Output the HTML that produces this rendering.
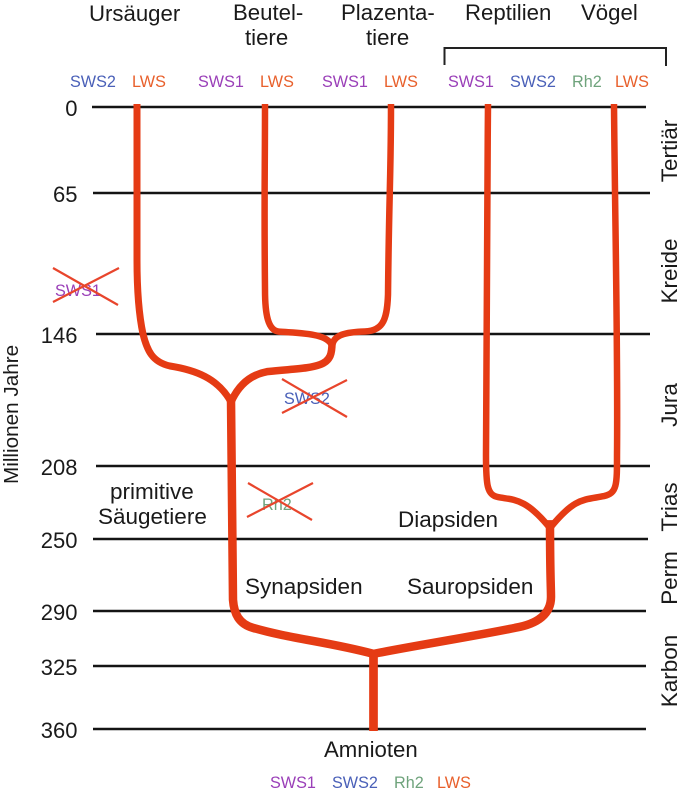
<!DOCTYPE html>
<html lang="de">
<head>
<meta charset="utf-8">
<title>Amnioten Opsin-Stammbaum</title>
<style>
html,body{margin:0;padding:0;background:#fff;width:685px;height:793px;overflow:hidden}
svg{display:block}
text{font-family:"Liberation Sans",sans-serif;fill:#1a1a1a}
.h{font-size:22.2px}
.b{font-size:22.5px}
.p{font-size:22.5px}
.g{font-size:16.2px}
.sws1{fill:#9a3fb8}
.sws2{fill:#4a60b8}
.rh2{fill:#6fa37c}
.lws{fill:#e8602c}
.cross{stroke:#e8452c;stroke-width:2.2;fill:none}
.branch{stroke:#e53b14;fill:none;stroke-linecap:butt;stroke-linejoin:round}
</style>
</head>
<body>
<svg id="chart" xmlns="http://www.w3.org/2000/svg" width="685" height="793" viewBox="0 0 685 793">
  <g id="grid"></g>
  <g id="ticks"></g>
  <g id="tree"></g>

  <text class="h" x="89" y="21">Ursäuger</text>
  <text class="h" x="233" y="20">Beutel-</text>
  <text class="h" x="245" y="45">tiere</text>
  <text class="h" x="341" y="20">Plazenta-</text>
  <text class="h" x="366" y="45">tiere</text>
  <text class="h" x="465" y="20">Reptilien</text>
  <text class="h" x="581" y="20">Vögel</text>

  <path d="M444.500 65V48H666V66" fill="none" stroke="#222" stroke-width="2"/>

  <text class="g sws2" x="70" y="87">SWS2</text>
  <text class="g lws" x="132" y="87">LWS</text>
  <text class="g sws1" x="198" y="87">SWS1</text>
  <text class="g lws" x="260" y="87">LWS</text>
  <text class="g sws1" x="322" y="87">SWS1</text>
  <text class="g lws" x="384" y="87">LWS</text>
  <text class="g sws1" x="448" y="87">SWS1</text>
  <text class="g sws2" x="510" y="87">SWS2</text>
  <text class="g rh2" x="572" y="87">Rh2</text>
  <text class="g lws" x="615" y="87">LWS</text>

  <text x="0" y="0" transform="translate(18,484) rotate(-90)" style="font-size:20.7px">Millionen Jahre</text>

  <g>
    <text class="p" text-anchor="middle" transform="translate(677,151) rotate(-90)">Tertiär</text>
    <text class="p" text-anchor="middle" transform="translate(677,271) rotate(-90)">Kreide</text>
    <text class="p" text-anchor="middle" transform="translate(677,405) rotate(-90)">Jura</text>
    <text class="p" text-anchor="middle" transform="translate(677,507) rotate(-90)">Trias</text>
    <text class="p" text-anchor="middle" transform="translate(677,578) rotate(-90)">Perm</text>
    <text class="p" text-anchor="middle" transform="translate(677,671) rotate(-90)">Karbon</text>
  </g>

  <text class="g sws1" x="55" y="296">SWS1</text>
  <path class="cross" d="M53 268L118 305M53 302L119 268"/>
  <text class="g sws2" x="284" y="404">SWS2</text>
  <path class="cross" d="M282 379L347 417M282 413L347 380"/>
  <text class="g rh2" x="262" y="510">Rh2</text>
  <path class="cross" d="M248 483L312 520M247 517L313 483"/>

  <text class="b" x="110" y="499">primitive</text>
  <text class="b" x="98" y="524">Säugetiere</text>
  <text class="b" x="245" y="594">Synapsiden</text>
  <text class="b" x="407" y="594">Sauropsiden</text>
  <text class="b" x="398" y="527">Diapsiden</text>
  <text class="h" x="324" y="757">Amnioten</text>

  <text class="g sws1" x="270" y="788">SWS1</text>
  <text class="g sws2" x="332" y="788">SWS2</text>
  <text class="g rh2" x="394" y="788">Rh2</text>
  <text class="g lws" x="437" y="788">LWS</text>
</svg>
<script>
// Chart data: geological boundaries and phylogeny node ages (million years ago)
const tickValues = [0, 65, 146, 208, 250, 290, 325, 360];
const tickLabels = ["0", "65", "146", "208", "250", "290", "325", "360"];
const presentAge = 0;
const marsupialNodeAge = 151;
const mammalNodeAge = 177;
const diapsidNodeAge = 242;
const amnioteNodeAge = 316;
const rootAge = 360;

// Axis function: the reference's geological time axis is piecewise linear
function yAxis(ma) {
  const domain = [0, 65, 146, 208, 250, 290, 325, 360];
  const range = [107, 193, 334, 466, 539, 611, 666, 729];
  let i = 0;
  while (i < domain.length - 2 && ma > domain[i + 1]) i++;
  return range[i] + (ma - domain[i]) * (range[i + 1] - range[i]) / (domain[i + 1] - domain[i]);
}
// Category axis: x position of each lineage
function xAxis(lineage) {
  switch (lineage) {
    case 'ursaeuger': return 137;
    case 'beutel': return 265;
    case 'plazenta': return 391;
    case 'mammal': return 231;
    case 'amniote': return 373.5;
    case 'diapsid': return 550;
    case 'reptil': return 488;
    case 'vogel': return 614;
  }
}
function lineStart(i) {
  return i === 0 ? 92 : (i === 2 || i === 3) ? 96 : 93;
}
function lineEnd(i) {
  return i === 0 ? 646 : i < 4 ? 650 : i === 4 ? 648 : 646;
}

const SVGNS = 'http://www.w3.org/2000/svg';
const grid = document.getElementById('grid');
const ticks = document.getElementById('ticks');
const tree = document.getElementById('tree');

tickValues.forEach(function (v, i) {
  const line = document.createElementNS(SVGNS, 'line');
  
  
  line.setAttribute('x1', lineStart(i));
  line.setAttribute('x2', lineEnd(i));
  line.setAttribute('y1', yAxis(v));
  line.setAttribute('y2', yAxis(v));
  line.setAttribute('stroke', '#141414');
  line.setAttribute('stroke-width', 2.5);
  grid.appendChild(line);

  const t = document.createElementNS(SVGNS, 'text');
  
  
  t.setAttribute('x', 77.5);
  t.setAttribute('y', yAxis(v) + 9);
  t.setAttribute('text-anchor', 'end');
  t.setAttribute('font-size', 22);
  t.textContent = tickLabels[i];
  ticks.appendChild(t);
});

function addBranch(d, w, name) {
  const p = document.createElementNS(SVGNS, 'path');
  
  
  p.setAttribute('class', 'branch');
  p.setAttribute('stroke-width', w);
  p.setAttribute('d', d);
  tree.appendChild(p);
}

const top0 = yAxis(presentAge) - 3;
const mq = yAxis(marsupialNodeAge);
const mn = yAxis(mammalNodeAge);
const dn = yAxis(diapsidNodeAge);
const an = yAxis(amnioteNodeAge);
const xU = xAxis('ursaeuger');
const xB = xAxis('beutel');
const xP = xAxis('plazenta');
const xM = xAxis('mammal');
const xA = xAxis('amniote');
const xD = xAxis('diapsid');
const xR = xAxis('reptil');
const xV = xAxis('vogel');

// Ursäuger branch
addBranch(`M${xU} ${top0} C${xU} ${top0 + 60} ${xU} ${mn - 190} ${xU} ${mn - 140} C${xU} ${mn - 100} ${xU + 3} ${mn - 80} ${xU + 6} ${mn - 66} C${xU + 10} ${mn - 50} ${xU + 15} ${mn - 38} ${xU + 33} ${mn - 34} C${xU + 58} ${mn - 30} ${xM - 13} ${mn - 22} ${xM} ${mn + 2}`, 7, 'branch-ursaeuger');
// Beuteltiere branch
addBranch(`M${xB} ${top0} C${xB} ${top0 + 70} ${xB - 1} ${mq - 150} ${xB} ${mq - 55} C${xB} ${mq - 30} ${xB + 3} ${mq - 14} ${xB + 14} ${mq - 13} C${xB + 28} ${mq - 12} ${xB + 40} ${mq - 12} ${xB + 52} ${mq - 9} C${xB + 60} ${mq - 7} ${xB + 65} ${mq - 4} ${xB + 67} ${mq + 1}`, 6.5, 'branch-beuteltiere');
// Plazentatiere branch
addBranch(`M${xP} ${top0} C${xP} ${top0 + 70} ${xP - 2} ${mq - 150} ${xP - 3} ${mq - 50} C${xP - 4} ${mq - 22} ${xP - 9} ${mq - 13} ${xP - 30} ${mq - 13} C${xP - 48} ${mq - 12} ${xP - 58} ${mq - 9} ${xP - 59} ${mq + 2}`, 6.5, 'branch-plazentatiere');
// Therian stem to the mammal node
addBranch(`M${xP - 59} ${mq - 2} C${xP - 59} ${mq + 8} ${xP - 60} ${mq + 16} ${xP - 71} ${mq + 20} C${xP - 82} ${mq + 24} ${xP - 95} ${mq + 24} ${xP - 124} ${mq + 27} C${xM + 20} ${mq + 30} ${xM + 8} ${mn - 16} ${xM} ${mn + 2}`, 7.5, 'branch-theria');
// Synapsid stem
addBranch(`M${xM} ${mn - 2} C${xM} ${mn + 60} ${xM + 1} ${an - 130} ${xM + 2} ${an - 52} C${xM + 3} ${an - 38} ${xM + 8} ${an - 28} ${xM + 22} ${an - 24} C${xM + 60} ${an - 13} ${xA - 45} ${an - 10} ${xA} ${an + 2}`, 8.5, 'branch-synapsiden');
// Sauropsid stem
addBranch(`M${xA} ${an + 2} C${xA + 40} ${an - 6} ${xD - 85} ${an - 14} ${xD - 35} ${an - 24} C${xD - 12} ${an - 28} ${xD + 1} ${an - 38} ${xD + 1} ${an - 55} C${xD + 1} ${an - 65} ${xD} ${dn + 50} ${xD} ${dn - 5}`, 8.5, 'branch-sauropsiden');
// Reptilien branch
addBranch(`M${xR} ${top0} C${xR - 1} ${top0 + 120} ${xR - 2} ${dn - 180} ${xR - 2} ${dn - 70} C${xR - 2} ${dn - 40} ${xR - 1} ${dn - 30} ${xR + 10} ${dn - 28} C${xR + 25} ${dn - 25} ${xD - 25} ${dn - 28} ${xD} ${dn + 3}`, 6.5, 'branch-reptilien');
// Vögel branch
addBranch(`M${xV} ${top0} C${xV + 1} ${top0 + 120} ${xV + 4} ${dn - 180} ${xV + 3} ${dn - 70} C${xV + 3} ${dn - 40} ${xV + 3} ${dn - 32} ${xV - 10} ${dn - 29} C${xV - 30} ${dn - 25} ${xD + 25} ${dn - 28} ${xD} ${dn + 3}`, 6.5, 'branch-voegel');
// Root trunk
addBranch(`M${xA} ${an - 1} L${xA} ${yAxis(rootAge) + 2}`, 8.7, 'branch-amnioten-root');
</script>
</body>
</html>
